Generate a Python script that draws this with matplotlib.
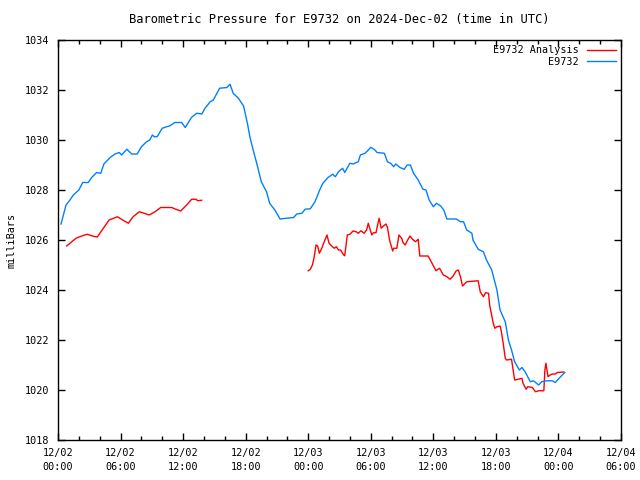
import numpy as np
import matplotlib
matplotlib.use("Agg")
import matplotlib.pyplot as plt
from matplotlib.ticker import MultipleLocator, FixedLocator

# horas desde 2024-12-02 00:00 UTC
obs_h = [0.29, 0.77, 1.15, 1.47, 2.0, 2.37, 2.9, 3.23, 3.7, 4.1, 4.4, 5.0, 5.47, 5.88,
         6.1, 6.6, 7.07, 7.6, 8.0, 8.5, 8.8, 9.05, 9.24, 9.5, 10.0, 10.4, 10.7, 11.2,
         11.86, 12.2, 12.8, 13.3, 13.8, 14.1, 14.6, 14.9, 15.5, 16.2, 16.5, 16.8, 17.3,
         17.8, 18.2, 18.4, 18.8, 19.06, 19.5, 20.0, 20.3, 20.8, 21.3, 21.9, 22.6, 22.9,
         23.4, 23.7, 24.2, 24.65, 25.1, 25.4, 25.9, 26.35, 26.6, 26.9, 27.3, 27.5, 28.0,
         28.3, 28.8, 29.0, 29.45, 29.7, 30.0, 30.4, 30.6, 31.3, 31.6, 31.9, 32.2, 32.4,
         32.8, 33.2, 33.5, 33.8, 34.1, 34.55, 35.0, 35.3, 35.6, 36.0, 36.3, 36.7, 37.0,
         37.3, 38.2, 38.6, 38.9, 39.2, 39.7, 39.8, 40.3, 40.8, 41.1, 41.6, 42.1, 42.4,
         42.9, 43.2, 43.5, 43.8, 44.25, 44.5, 44.8, 45.3, 45.6, 46.1, 46.4, 46.9, 47.4,
         47.7, 48.2, 48.6]
obs_p = [1026.64, 1027.4, 1027.6, 1027.8, 1028.0, 1028.3, 1028.3, 1028.5, 1028.7, 1028.67,
         1029.04, 1029.3, 1029.44, 1029.5, 1029.4, 1029.63, 1029.44, 1029.44, 1029.73,
         1029.93, 1030.0, 1030.2, 1030.13, 1030.13, 1030.47, 1030.53, 1030.56, 1030.7,
         1030.7, 1030.5, 1030.9, 1031.07, 1031.04, 1031.27, 1031.53, 1031.6, 1032.07,
         1032.1, 1032.23, 1031.87, 1031.67, 1031.36, 1030.6, 1030.13, 1029.47, 1029.07,
         1028.33, 1027.93, 1027.47, 1027.2, 1026.84, 1026.87, 1026.9, 1027.04, 1027.07,
         1027.23, 1027.25, 1027.53, 1028.0, 1028.27, 1028.5, 1028.63, 1028.53, 1028.73,
         1028.87, 1028.7, 1029.07, 1029.04, 1029.13, 1029.4, 1029.47, 1029.57, 1029.71,
         1029.6, 1029.5, 1029.47, 1029.13, 1029.07, 1028.93, 1029.04, 1028.9, 1028.83,
         1029.0, 1029.0, 1028.67, 1028.4, 1028.03, 1028.0, 1027.6, 1027.33, 1027.47,
         1027.36, 1027.2, 1026.84, 1026.84, 1026.73, 1026.73, 1026.4, 1026.27, 1026.0,
         1025.63, 1025.53, 1025.2, 1024.8, 1024.0, 1023.2, 1022.73, 1022.0, 1021.6,
         1021.13, 1020.8, 1020.9, 1020.73, 1020.33, 1020.37, 1020.2, 1020.33, 1020.37,
         1020.37, 1020.3, 1020.53, 1020.7]

# análisis: dos tramos separados por un hueco
ana1_h = [0.83, 1.73, 2.27, 2.8, 3.3, 3.77, 4.35, 4.9, 5.7, 6.2, 6.75, 7.2, 7.8, 8.25,
          8.75, 9.3, 9.85, 10.9, 11.3, 11.77, 12.34, 12.82, 13.24, 13.4, 13.78]
ana1_p = [1025.76, 1026.07, 1026.16, 1026.23, 1026.16, 1026.12, 1026.47, 1026.8, 1026.93,
          1026.8, 1026.67, 1026.93, 1027.13, 1027.07, 1027.0, 1027.13, 1027.3, 1027.3,
          1027.23, 1027.16, 1027.4, 1027.63, 1027.63, 1027.57, 1027.59]
ana2_h = [24.0, 24.2, 24.4, 24.55, 24.75, 24.9, 25.07, 25.3, 25.5, 25.8, 26.0, 26.25,
          26.5, 26.7, 26.9, 27.1, 27.4, 27.5, 27.75, 28.0, 28.3, 28.6, 28.8, 29.06, 29.35,
          29.6, 29.76, 29.9, 30.1, 30.24, 30.5, 30.6, 30.8, 31.0, 31.2, 31.46, 31.6, 31.8,
          32.1, 32.2, 32.5, 32.7, 32.96, 33.1, 33.3, 33.5, 33.76, 34.0, 34.3, 34.55, 34.7,
          35.5, 35.8, 36.25, 36.6, 36.96, 37.3, 37.6, 37.9, 38.2, 38.4, 38.6, 38.8, 39.2,
          40.3, 40.5, 40.8, 41.0, 41.3, 41.4, 41.75, 41.9, 42.1, 42.4, 42.5, 42.7, 42.9,
          43.03, 43.5, 43.7, 43.8, 44.15, 44.5, 44.6, 44.9, 45.05, 45.5, 45.8, 46.1, 46.6,
          46.7, 46.8, 46.9, 47.0, 47.2, 47.4, 47.7, 47.9, 48.5]
ana2_p = [1024.77, 1024.83, 1025.0, 1025.27, 1025.8, 1025.76, 1025.47, 1025.67, 1025.89,
          1026.2, 1025.87, 1025.76, 1025.67, 1025.73, 1025.6, 1025.6, 1025.4, 1025.37,
          1026.2, 1026.23, 1026.36, 1026.33, 1026.27, 1026.37, 1026.27, 1026.4, 1026.67,
          1026.47, 1026.2, 1026.29, 1026.29, 1026.5, 1026.87, 1026.47, 1026.56, 1026.64,
          1026.5, 1026.0, 1025.56, 1025.67, 1025.67, 1026.2, 1026.07, 1025.89, 1025.8,
          1025.97, 1026.16, 1026.03, 1025.93, 1026.03, 1025.36, 1025.36, 1025.13, 1024.77,
          1024.87, 1024.6, 1024.53, 1024.43, 1024.56, 1024.77, 1024.8, 1024.53, 1024.16,
          1024.33, 1024.37, 1023.93, 1023.73, 1023.89, 1023.87, 1023.4, 1022.67, 1022.47,
          1022.53, 1022.56, 1022.4, 1021.87, 1021.27, 1021.2, 1021.23, 1020.67, 1020.4,
          1020.43, 1020.47, 1020.27, 1020.03, 1020.13, 1020.1, 1019.93, 1019.97, 1019.97,
          1020.8, 1021.07, 1020.8, 1020.53, 1020.6, 1020.64, 1020.64, 1020.7, 1020.72]

tick_h = [0, 6, 12, 18, 24, 30, 36, 42, 48, 54]
tick_lbl = ["12/02\n00:00", "12/02\n06:00", "12/02\n12:00", "12/02\n18:00",
            "12/03\n00:00", "12/03\n06:00", "12/03\n12:00", "12/03\n18:00",
            "12/04\n00:00", "12/04\n06:00"]

plt.rcParams['font.family'] = ['DejaVu Sans Mono']
plt.rcParams['font.size'] = 7.3

fig = plt.figure(figsize=(6.4, 4.8), dpi=100)
ax = fig.add_axes([58/640, 40/480, 563/640, 400/480])

# hueco entre tramos con NaN
ana_h = ana1_h + [np.nan] + ana2_h
ana_p = ana1_p + [np.nan] + ana2_p
ax.plot(ana_h, ana_p, color='#ff0000', lw=1, label='E9732 Analysis')
ax.plot(obs_h, obs_p, color='#0080ff', lw=1, label='E9732')

ax.set_xlim(0, 54)
ax.set_ylim(1018, 1034)
ax.xaxis.set_major_locator(FixedLocator(tick_h))
ax.set_xticklabels(tick_lbl, linespacing=1.45)
ax.xaxis.set_minor_locator(MultipleLocator(2))
ax.yaxis.set_major_locator(MultipleLocator(2))
ax.tick_params(which='both', direction='in', top=True, right=True, width=1)
ax.tick_params(which='major', length=5, pad=6)
ax.tick_params(which='minor', length=3)
for s in ax.spines.values():
    s.set_linewidth(1)

ax.set_ylabel('milliBars', va='center')
ax.yaxis.set_label_coords(-46/563, 0.5)
ax.set_title('Barometric Pressure for E9732 on 2024-Dec-02 (time in UTC)', pad=12)
ax.legend(loc='upper right', frameon=False, markerfirst=False, handlelength=2.9,
          labelspacing=0.15, borderaxespad=0.3, handletextpad=0.8, borderpad=0.2)

fig.savefig('out.png', dpi=100)
